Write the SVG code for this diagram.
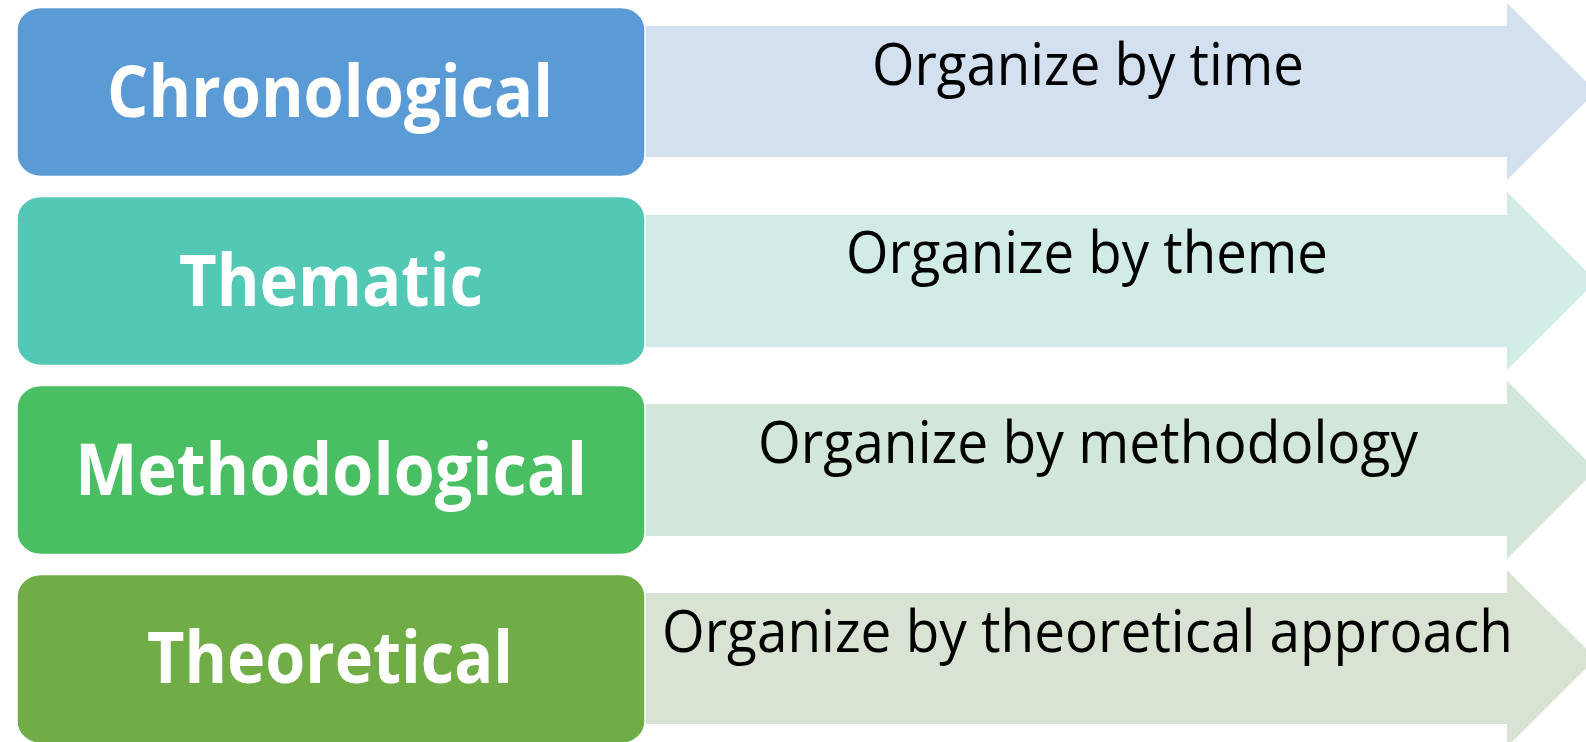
<svg xmlns="http://www.w3.org/2000/svg" width="1586" height="742" viewBox="0 0 1586 742">
  <style>
    .box { stroke: #ffffff; stroke-width: 1.5; }
    .lbl { font-family: "Open Sans", "Noto Sans", "Liberation Sans", sans-serif; font-weight: 700; font-size: 71px; fill: #ffffff; text-anchor: middle; }
    .desc { font-family: "Open Sans", "Noto Sans", "Liberation Sans", sans-serif; font-weight: 400; font-size: 58px; fill: #000000; text-anchor: middle; }
  </style>
  <rect width="1586" height="742" fill="#ffffff"/>

  <!-- Arrow bands (drawn first, boxes overlap their left ends) -->
  <g id="arrow-time">
    <path d="M636,26 H1507 V3 L1596,91.5 L1507,180 V157 H636 Z" fill="#D3E0EF"/>
    <text class="desc" x="1088" y="85" textLength="432" lengthAdjust="spacingAndGlyphs">Organize by time</text>
  </g>
  <g id="arrow-theme">
    <path d="M636,215 H1507 V192 L1596,281 L1507,370 V347 H636 Z" fill="#D1EBE7"/>
    <text class="desc" x="1087" y="273" textLength="482" lengthAdjust="spacingAndGlyphs">Organize by theme</text>
  </g>
  <g id="arrow-methodology">
    <path d="M636,404 H1507 V381 L1596,470 L1507,559 V536 H636 Z" fill="#D2E7D9"/>
    <text class="desc" x="1088" y="463" textLength="660" lengthAdjust="spacingAndGlyphs">Organize by methodology</text>
  </g>
  <g id="arrow-theory">
    <path d="M636,593 H1507 V570 L1596,658.5 L1507,747 V724 H636 Z" fill="#D8E3D3"/>
    <text class="desc" x="1087.5" y="652" textLength="851" lengthAdjust="spacingAndGlyphs">Organize by theoretical approach</text>
  </g>

  <!-- Category boxes -->
  <g id="node-chronological">
    <rect class="box" x="17" y="7.5" width="628" height="169" rx="24" ry="22" fill="#5B9BD5"/>
    <text class="lbl" x="330" y="117" textLength="446" lengthAdjust="spacingAndGlyphs">Chronological</text>
  </g>
  <g id="node-thematic">
    <rect class="box" x="17" y="196.5" width="628" height="169" rx="24" ry="22" fill="#53C8B5"/>
    <text class="lbl" x="331" y="306" textLength="304" lengthAdjust="spacingAndGlyphs">Thematic</text>
  </g>
  <g id="node-methodological">
    <rect class="box" x="17" y="385.5" width="628" height="169" rx="24" ry="22" fill="#4ABE63"/>
    <text class="lbl" x="331" y="495" textLength="512" lengthAdjust="spacingAndGlyphs">Methodological</text>
  </g>
  <g id="node-theoretical">
    <rect class="box" x="17" y="574.5" width="628" height="169" rx="24" ry="22" fill="#70AD47"/>
    <text class="lbl" x="330" y="683" textLength="366" lengthAdjust="spacingAndGlyphs">Theoretical</text>
  </g>

  <!-- No separate connectors: the arrow bands carry the flow -->
  <g id="connectors"/>
</svg>
